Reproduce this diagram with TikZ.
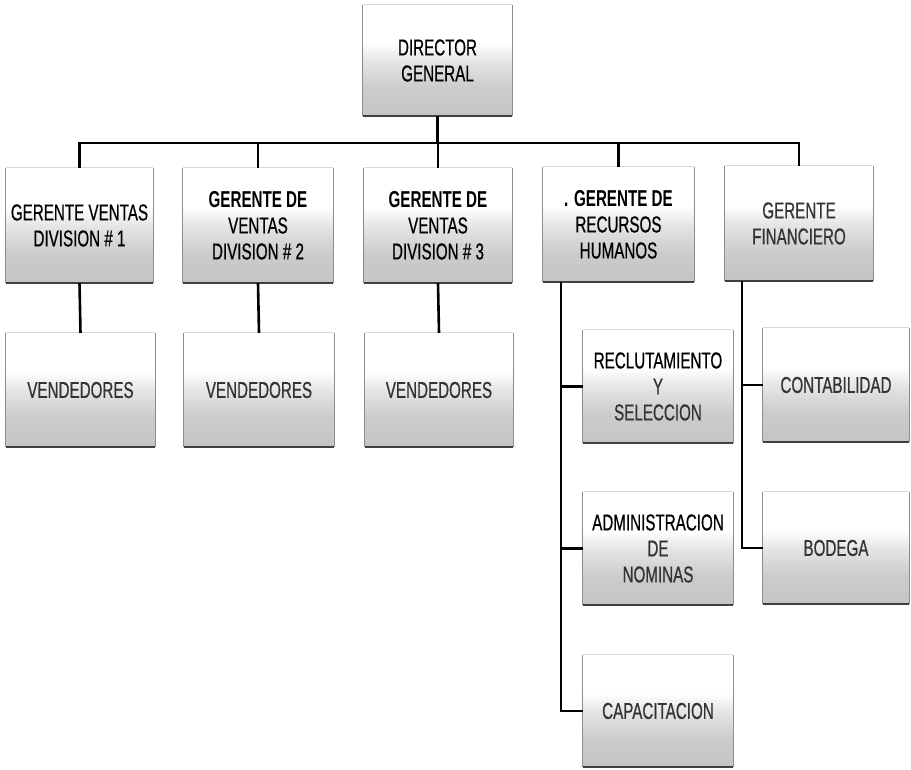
\documentclass[tikz,border=0pt]{standalone}
\usepackage{fontspec}
\setmainfont{Liberation Sans}[FakeStretch=0.66, UprightFeatures={FakeBold=0.6}]
\pgfdeclareverticalshading{boxshade}{100bp}{color(0bp)=(black!23); color(25bp)=(black!23); color(38bp)=(black!20); color(50bp)=(black!10); color(58bp)=(white); color(100bp)=(white)}
\begin{document}
\begin{tikzpicture}[x=1pt,y=-1pt,
  orgbox/.style={rectangle, shading=boxshade, inner sep=0pt, align=center,
    font=\fontsize{23}{26}\selectfont, text=black!80},
  lvlbox/.style={orgbox, minimum width=#1, minimum height=115},
  topedge/.style={draw=black!15, line width=0.8pt},
  sideedge/.style={draw=black!45, line width=0.9pt},
  botedge/.style={draw=black!75, line width=2pt},
  conn/.style={draw=black, line width=2.6pt}]
\useasboundingbox (0,0) rectangle (911,770);
% boxes
\node[orgbox, minimum width=149, minimum height=111] (dir) at (437.5,60.5) {\color{black}DIRECTOR\\\color{black}GENERAL};
\node[lvlbox=147] (g1) at (79.5,225.5) {\color{black}GERENTE VENTAS\\\color{black}DIVISION \# 1};
\node[lvlbox=150] (g2) at (258,225.5) {{\bfseries\color{black}GERENTE DE}\\\color{black}VENTAS\\\color{black}DIVISION \# 2};
\node[lvlbox=148] (g3) at (438,225.5) {{\bfseries\color{black}GERENTE DE}\\\color{black}VENTAS\\\color{black}DIVISION \# 3};
\node[lvlbox=151] (grh) at (618.5,224.5) {{\bfseries\color{black}. GERENTE DE}\\\color{black}RECURSOS\\\color{black}HUMANOS};
\node[lvlbox=148] (gf) at (799,223.5) {GERENTE\\FINANCIERO};
\node[orgbox, minimum width=149, minimum height=114] (v1) at (80.5,390) {VENDEDORES};
\node[orgbox, minimum width=150, minimum height=114] (v2) at (259,390) {VENDEDORES};
\node[orgbox, minimum width=148, minimum height=114] (v3) at (439,390) {VENDEDORES};
\node[orgbox, minimum width=150, minimum height=113] (rec) at (658,386.5) {\color{black}RECLUTAMIENTO\\Y\\SELECCION};
\node[orgbox, minimum width=150, minimum height=113] (adm) at (658,548.5) {\color{black}ADMINISTRACION\\DE\\NOMINAS};
\node[orgbox, minimum width=150, minimum height=112] (cap) at (658,711) {CAPACITACION};
\node[orgbox, minimum width=146, minimum height=114] (con) at (836,385) {CONTABILIDAD};
\node[orgbox, minimum width=146, minimum height=112] (bod) at (836,548) {BODEGA};
% box edges
\foreach \n in {dir,g1,g2,g3,grh,gf,v1,v2,v3,rec,adm,cap,con,bod}{
  \draw[topedge] (\n.north west) -- (\n.north east);
  \draw[sideedge] (\n.north west) -- (\n.south west) (\n.north east) -- (\n.south east);
  \draw[botedge] (\n.south west) -- (\n.south east);
}
% connectors
\coordinate (bus) at (0,143);
\coordinate (rhx) at (561,0);
\coordinate (gfx) at (742,0);
\draw[conn] (g1.north) -- (g1.north |- bus) -| (gf.north);
\draw[conn] (dir.south) -- (dir.south |- bus);
\draw[conn] (g2.north) -- (g2.north |- bus);
\draw[conn] (g3.north) -- (g3.north |- bus);
\draw[conn] (grh.north) -- (grh.north |- bus);
\draw[conn] (g1.south) -- (v1.north);
\draw[conn] (g2.south) -- (v2.north);
\draw[conn] (g3.south) -- (v3.north);
\draw[conn] (grh.south -| rhx) |- (cap.west);
\draw[conn] (rhx |- rec.west) -- (rec.west);
\draw[conn] (rhx |- adm.west) -- (adm.west);
\draw[conn] (gf.south -| gfx) |- (bod.west);
\draw[conn] (gfx |- con.west) -- (con.west);
\end{tikzpicture}
\end{document}
